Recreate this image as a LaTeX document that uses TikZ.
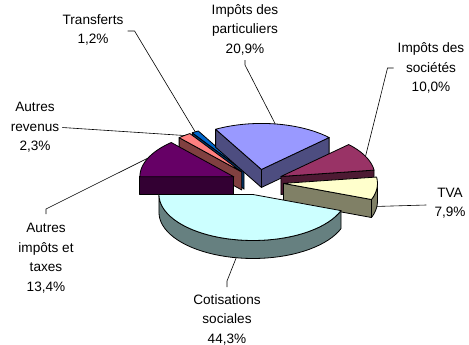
\documentclass[tikz,border=0pt]{standalone}
\usepackage{fontspec}
\setmainfont{Liberation Sans}
\definecolor{partTop}{HTML}{9999FF}\definecolor{partSide}{HTML}{4D4D80}
\definecolor{socTop}{HTML}{993366}\definecolor{socSide}{HTML}{4D1A33}
\definecolor{tvaTop}{HTML}{FFFFCC}\definecolor{tvaSide}{HTML}{808066}
\definecolor{cotTop}{HTML}{CCFFFF}\definecolor{cotSide}{HTML}{668080}
\definecolor{aiTop}{HTML}{660066}\definecolor{aiSide}{HTML}{330033}
\definecolor{arTop}{HTML}{FF8080}\definecolor{arSide}{HTML}{804040}
\definecolor{trTop}{HTML}{0066CC}\definecolor{trSide}{HTML}{003366}
\begin{document}
\begin{tikzpicture}[x=1pt, y=-1pt, line join=round,
	face/.style={draw=black, line width=0.8pt},
	leader/.style={draw=black, line width=0.6pt},
	lbl/.style={align=center, inner sep=0pt, font=\fontsize{13.6}{19.5}\selectfont}]
	\useasboundingbox (0,0) rectangle (469,345);
	\def\rx{94}\def\ry{46}\def\dep{18}
	% top face, radial face and outer rim of one wedge
	\def\pietop#1#2#3{\filldraw[face,fill=#3] (0,0) -- plot[domain=#1:#2,samples=40] ({\rx*cos(\x)},{-\ry*sin(\x)}) -- cycle;}
	\def\pieface#1#2{\filldraw[face,fill=#2] (0,0) -- ({\rx*cos(#1)},{-\ry*sin(#1)}) -- ++(0,\dep) -- (0,\dep) -- cycle;}
	\def\pierim#1#2#3{\filldraw[face,fill=#3] plot[domain=#1:#2,samples=40] ({\rx*cos(\x)},{-\ry*sin(\x)}) -- plot[domain=#2:#1,samples=40] ({\rx*cos(\x)},{\dep-\ry*sin(\x)}) -- cycle;}
	% wedges, from back to front (exploded by 26 along the mid angle)
	\begin{scope}[shift={({257.6+26*cos(121.32)},{182-12.7*sin(121.32)})}]
		\pieface{123.48}{trSide}
		\pietop{123.48}{119.16}{trTop}
		\coordinate (tr-pt) at ({\rx*cos(121.32)},{-\ry*sin(121.32)});
	\end{scope}
	\begin{scope}[shift={({257.6+26*cos(127.62)},{182-12.7*sin(127.62)})}]
		\pieface{131.76}{arSide}
		\pietop{131.76}{123.48}{arTop}
		\coordinate (ar-pt) at ({\rx*cos(127.62)},{-\ry*sin(127.62)});
	\end{scope}
	\begin{scope}[shift={({257.6+26*cos(81.54)},{182-12.7*sin(81.54)})}]
		\pieface{119.16}{partSide}
		\pieface{43.92}{partSide}
		\pietop{119.16}{43.92}{partTop}
		\coordinate (pa-pt) at ({\rx*cos(81.54)},{-\ry*sin(81.54)});
	\end{scope}
	\begin{scope}[shift={({257.6+26*cos(155.88)},{182-12.7*sin(155.88)})}]
		\pieface{180}{aiSide}
		\pietop{180}{131.76}{aiTop}
		\coordinate (ai-pt) at ({\rx*cos(155.88)},{-\ry*sin(155.88)});
	\end{scope}
	\begin{scope}[shift={({257.6+26*cos(25.92)},{182-12.7*sin(25.92)})}]
		\pieface{7.92}{socSide}
		\pietop{43.92}{7.92}{socTop}
		\coordinate (so-pt) at ({\rx*cos(25.92)},{-\ry*sin(25.92)});
	\end{scope}
	\begin{scope}[shift={({257.6+26*cos(-6.3)},{182-12.7*sin(-6.3)})}]
		\pieface{-20.52}{tvaSide}
		\pierim{0}{-20.52}{tvaSide}
		\pietop{7.92}{-20.52}{tvaTop}
		\coordinate (tva-pt) at ({\rx*cos(-6.3)},{\dep-\ry*sin(-6.3)});
	\end{scope}
	\begin{scope}[shift={({257.6+26*cos(-100.26)},{182-12.7*sin(-100.26)})}]
		\pierim{-20.52}{-180}{cotSide}
		\pietop{-20.52}{-180}{cotTop}
		\coordinate (co-pt) at ({\rx*cos(-100.26)},{\dep-\ry*sin(-100.26)});
	\end{scope}
	% labels
	\node[lbl] (pa) at (245,29.5) {Impôts des\\particuliers\\20,9\%};
	\node[lbl] (tr) at (93,30) {Transferts\\1,2\%};
	\node[lbl] (so) at (431,68) {Impôts des\\sociétés\\10,0\%};
	\node[lbl] (ar) at (35,127.5) {Autres\\revenus\\2,3\%};
	\node[lbl] (tva) at (450,203) {TVA\\7,9\%};
	\node[lbl] (ai) at (46,258) {Autres\\impôts et\\taxes\\13,4\%};
	\node[lbl] (co) at (227,319.5) {Cotisations\\sociales\\44,3\%};
	% leader lines
	\draw[leader] ([xshift=4pt,yshift=-1pt]tr.east) -- ++(7,0) -- (tr-pt);
	\draw[leader] ([yshift=-5pt]pa.south) -- ++(0,5) -- (pa-pt);
	\draw[leader] ([xshift=-4pt]so.west) -- ++(-6,0) -- (so-pt);
	\draw[leader] ([xshift=-8pt,yshift=-2pt]tva.west) -- (tva-pt);
	\draw[leader] ([xshift=3pt]ar.east) -- (ar-pt);
	\draw[leader] ([yshift=9pt]ai.north) -- ++(0,-5) -- (ai-pt);
	\draw[leader] ([yshift=7pt]co.north) -- ++(0,-6) -- (co-pt);
\end{tikzpicture}
\end{document}
